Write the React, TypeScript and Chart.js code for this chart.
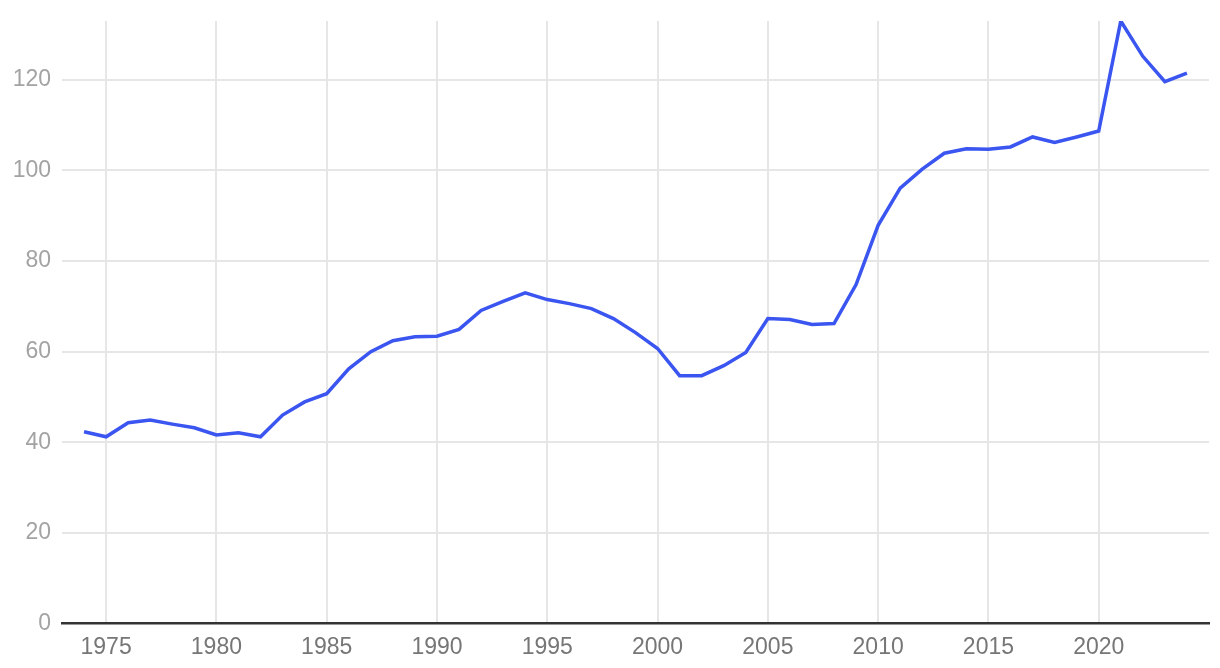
import React, { useEffect, useRef } from "react";
import { Chart, registerables } from "chart.js";

Chart.register(...registerables);

const years: number[] = [
  1974, 1975, 1976, 1977, 1978, 1979, 1980, 1981, 1982, 1983, 1984, 1985, 1986,
  1987, 1988, 1989, 1990, 1991, 1992, 1993, 1994, 1995, 1996, 1997, 1998, 1999,
  2000, 2001, 2002, 2003, 2004, 2005, 2006, 2007, 2008, 2009, 2010, 2011, 2012,
  2013, 2014, 2015, 2016, 2017, 2018, 2019, 2020, 2021, 2022, 2023, 2024,
];

const values: number[] = [
  42.3, 41.2, 44.3, 44.9, 44.0, 43.2, 41.6, 42.1, 41.2, 46.0, 48.9, 50.7, 56.2,
  60.0, 62.4, 63.3, 63.4, 64.9, 69.1, 71.1, 73.0, 71.5, 70.6, 69.5, 67.3, 64.2,
  60.7, 54.7, 54.7, 56.9, 59.8, 67.3, 67.1, 66.0, 66.2, 74.8, 87.9, 96.1, 100.3,
  103.8, 104.8, 104.7, 105.2, 107.4, 106.2, 107.4, 108.7, 133.0, 125.2, 119.6, 121.5,
];

const xTicks: number[] = [1975, 1980, 1985, 1990, 1995, 2000, 2005, 2010, 2015, 2020];
const yTicks: number[] = [0, 20, 40, 60, 80, 100, 120];

export default function App() {
  const ref = useRef<HTMLCanvasElement | null>(null);

  useEffect(() => {
    if (!ref.current) return;
    const chart = new Chart(ref.current, {
      type: "line",
      data: {
        datasets: [
          {
            data: years.map((y, i) => ({ x: y, y: values[i] })),
            borderColor: "#3a55f0",
            borderWidth: 3.5,
            pointRadius: 0,
            tension: 0,
            fill: false,
          },
        ],
      },
      options: {
        animation: false,
        responsive: false,
        maintainAspectRatio: false,
        layout: { padding: { left: 0, right: 11, top: 21, bottom: -3 } },
        plugins: { legend: { display: false }, tooltip: { enabled: false } },
        scales: {
          x: {
            type: "linear",
            min: 1973,
            max: 2025,
            afterBuildTicks: (s: any) => {
              s.ticks = xTicks.map((v) => ({ value: v }));
            },
            afterFit: (s: any) => {
              s.paddingLeft = 0;
              s.paddingRight = 0;
            },
            grid: { color: "#e6e6e6", lineWidth: 2, drawTicks: false },
            border: { display: true, color: "#333333", width: 2.6 },
            ticks: {
              padding: 10,
              color: "#767676",
              font: { family: "'Liberation Sans', Arial, sans-serif", size: 23 },
              callback: (v: any) => String(v),
              maxRotation: 0,
            },
          },
          y: {
            min: 0,
            max: 133,
            afterBuildTicks: (s: any) => {
              s.ticks = yTicks.map((v) => ({ value: v }));
            },
            afterFit: (s: any) => {
              s.width = 62;
              s.paddingTop = 0;
              s.paddingBottom = 0;
            },
            grid: { color: "#e6e6e6", lineWidth: 2, drawTicks: false },
            border: { display: false },
            ticks: {
              padding: 11,
              color: "#a3a3a3",
              font: { family: "'Liberation Sans', Arial, sans-serif", size: 23 },
            },
          },
        },
      },
    });
    return () => chart.destroy();
  }, []);

  return (
    <div style={{ position: "fixed", left: 0, top: 0, width: 1220, height: 668, background: "#fff" }}>
      <canvas ref={ref} width={1220} height={668} style={{ display: "block", width: 1220, height: 668 }} />
    </div>
  );
}
